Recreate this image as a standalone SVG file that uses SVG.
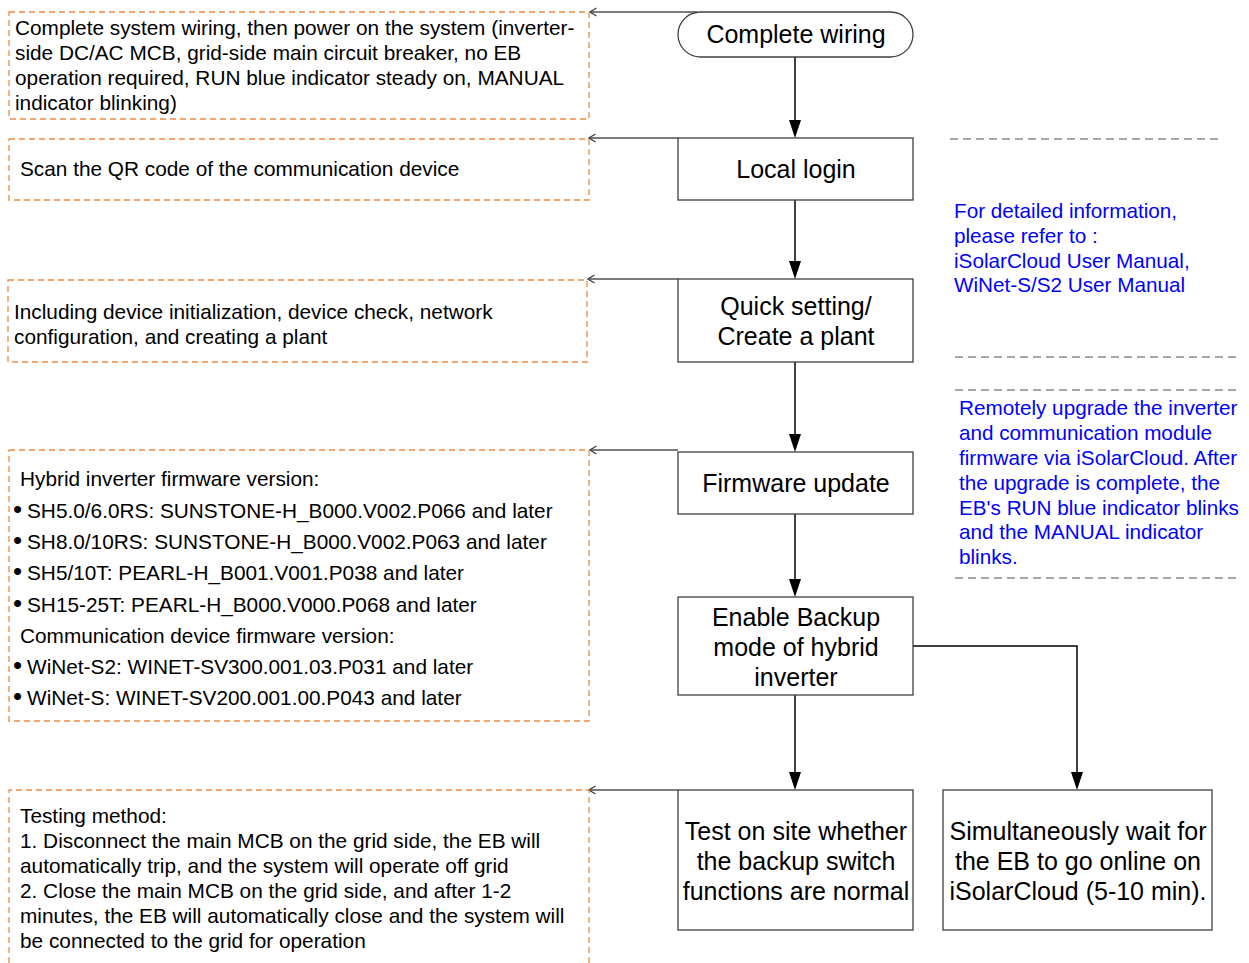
<svg xmlns="http://www.w3.org/2000/svg" width="1249" height="963" viewBox="0 0 1249 963">
<style>
  .node { fill: #ffffff; stroke: #404040; stroke-width: 1.3; }
  .ntext { font-family: "Liberation Sans", Arial, sans-serif; font-size: 25px; fill: #000; text-anchor: middle; }
  .note { fill: none; stroke: #EE8B45; stroke-width: 1.3; stroke-dasharray: 6,4; }
  .ltext { font-family: "Liberation Sans", Arial, sans-serif; font-size: 20.8px; fill: #000; }
  .bul { font-size: 26px; }
  .btext { font-family: "Liberation Sans", Arial, sans-serif; font-size: 20.7px; fill: #0000FF; }
  .flow { fill: none; stroke: #000; stroke-width: 1.5; }
  .ref { fill: none; stroke: #505050; stroke-width: 1.3; }
  .sep { fill: none; stroke: #505050; stroke-width: 1.2; stroke-dasharray: 8,5; }
</style>
<defs>
  <marker id="open" viewBox="0 0 10 10" refX="8.5" refY="5" markerWidth="10" markerHeight="10" markerUnits="userSpaceOnUse" orient="auto">
    <path d="M2,1 L8.5,5 L2,9" fill="none" stroke="#404040" stroke-width="1.3"/>
  </marker>
</defs>

<g id="connectors">
  <line class="flow" x1="795" y1="57" x2="795" y2="120"/>
  <path d="M789,120 L801,120 L795,138 Z" fill="#000"/>
  <line class="flow" x1="795" y1="200" x2="795" y2="261"/>
  <path d="M789,261 L801,261 L795,279 Z" fill="#000"/>
  <line class="flow" x1="795" y1="362" x2="795" y2="434"/>
  <path d="M789,434 L801,434 L795,452 Z" fill="#000"/>
  <line class="flow" x1="795" y1="514" x2="795" y2="579"/>
  <path d="M789,579 L801,579 L795,597 Z" fill="#000"/>
  <line class="flow" x1="795" y1="695" x2="795" y2="772"/>
  <path d="M789,772 L801,772 L795,790 Z" fill="#000"/>
  <polyline class="flow" points="913,646 1077,646 1077,772"/>
  <path d="M1071,772 L1083,772 L1077,790 Z" fill="#000"/>

  <line class="ref" x1="697" y1="12" x2="590" y2="12" marker-end="url(#open)"/>
  <line class="ref" x1="678" y1="138" x2="589" y2="138" marker-end="url(#open)"/>
  <line class="ref" x1="678" y1="279" x2="588" y2="279" marker-end="url(#open)"/>
  <line class="ref" x1="678" y1="450" x2="590" y2="450" marker-end="url(#open)"/>
  <line class="ref" x1="678" y1="790" x2="589" y2="790" marker-end="url(#open)"/>
</g>

<g id="node-complete-wiring">
  <rect class="node" x="678" y="12" width="235" height="45" rx="22.5" ry="22.5"/>
  <text class="ntext" x="796" y="43">Complete wiring</text>
</g>
<g id="node-local-login">
  <rect class="node" x="678" y="138" width="235" height="62"/>
  <text class="ntext" x="796" y="178">Local login</text>
</g>
<g id="node-quick-setting">
  <rect class="node" x="678" y="279" width="235" height="83"/>
  <text class="ntext" x="796" y="315">Quick setting/</text>
  <text class="ntext" x="796" y="345">Create a plant</text>
</g>
<g id="node-firmware-update">
  <rect class="node" x="678" y="452" width="235" height="62"/>
  <text class="ntext" x="796" y="492">Firmware update</text>
</g>
<g id="node-enable-backup">
  <rect class="node" x="678" y="597" width="235" height="98"/>
  <text class="ntext" x="796" y="626">Enable Backup</text>
  <text class="ntext" x="796" y="656">mode of hybrid</text>
  <text class="ntext" x="796" y="686">inverter</text>
</g>
<g id="node-test-on-site">
  <rect class="node" x="678" y="790" width="235" height="140"/>
  <text class="ntext" x="796" y="840">Test on site whether</text>
  <text class="ntext" x="796" y="870">the backup switch</text>
  <text class="ntext" x="796" y="900">functions are normal</text>
</g>
<g id="node-wait-eb">
  <rect class="node" x="943" y="790" width="269" height="140"/>
  <text class="ntext" x="1078" y="840">Simultaneously wait for</text>
  <text class="ntext" x="1078" y="870">the EB to go online on</text>
  <text class="ntext" x="1078" y="900">iSolarCloud (5-10 min).</text>
</g>

<g id="note-wiring">
  <rect class="note" x="9" y="12" width="580" height="107"/>
  <text class="ltext" x="15" y="35">Complete system wiring, then power on the system (inverter-</text>
  <text class="ltext" x="15" y="60">side DC/AC MCB, grid-side main circuit breaker, no EB</text>
  <text class="ltext" x="15" y="85">operation required, RUN blue indicator steady on, MANUAL</text>
  <text class="ltext" x="15" y="110">indicator blinking)</text>
</g>
<g id="note-scan">
  <rect class="note" x="9" y="139" width="580" height="61"/>
  <text class="ltext" x="20" y="176">Scan the QR code of the communication device</text>
</g>
<g id="note-quick">
  <rect class="note" x="8" y="280" width="579" height="82"/>
  <text class="ltext" x="14" y="319">Including device initialization, device check, network</text>
  <text class="ltext" x="14" y="344">configuration, and creating a plant</text>
</g>
<g id="note-firmware">
  <rect class="note" x="9" y="450" width="580" height="271"/>
  <text class="ltext" x="20" y="486">Hybrid inverter firmware version:</text>
  <text class="ltext" y="518"><tspan class="bul" x="13">•</tspan><tspan x="27">SH5.0/6.0RS: SUNSTONE-H_B000.V002.P066 and later</tspan></text>
  <text class="ltext" y="549"><tspan class="bul" x="13">•</tspan><tspan x="27">SH8.0/10RS: SUNSTONE-H_B000.V002.P063 and later</tspan></text>
  <text class="ltext" y="580"><tspan class="bul" x="13">•</tspan><tspan x="27">SH5/10T: PEARL-H_B001.V001.P038 and later</tspan></text>
  <text class="ltext" y="612"><tspan class="bul" x="13">•</tspan><tspan x="27">SH15-25T: PEARL-H_B000.V000.P068 and later</tspan></text>
  <text class="ltext" x="20" y="643">Communication device firmware version:</text>
  <text class="ltext" y="674"><tspan class="bul" x="13">•</tspan><tspan x="27">WiNet-S2: WINET-SV300.001.03.P031 and later</tspan></text>
  <text class="ltext" y="705"><tspan class="bul" x="13">•</tspan><tspan x="27">WiNet-S: WINET-SV200.001.00.P043 and later</tspan></text>
</g>
<g id="note-testing">
  <path class="note" d="M9,963 L9,790 L589,790 L589,963"/>
  <text class="ltext" x="20" y="823">Testing method:</text>
  <text class="ltext" x="20" y="848">1. Disconnect the main MCB on the grid side, the EB will</text>
  <text class="ltext" x="20" y="873">automatically trip, and the system will operate off grid</text>
  <text class="ltext" x="20" y="898">2. Close the main MCB on the grid side, and after 1-2</text>
  <text class="ltext" x="20" y="923">minutes, the EB will automatically close and the system will</text>
  <text class="ltext" x="20" y="948">be connected to the grid for operation</text>
</g>

<g id="info-manual">
  <line class="sep" x1="950" y1="139" x2="1222" y2="139"/>
  <text class="btext" x="954" y="218">For detailed information,</text>
  <text class="btext" x="954" y="243">please refer to :</text>
  <text class="btext" x="954" y="268">iSolarCloud User Manual,</text>
  <text class="btext" x="954" y="292">WiNet-S/S2 User Manual</text>
  <line class="sep" x1="955" y1="357" x2="1238" y2="357"/>
</g>
<g id="info-upgrade">
  <line class="sep" x1="955" y1="390" x2="1238" y2="390"/>
  <text class="btext" x="959" y="415">Remotely upgrade the inverter</text>
  <text class="btext" x="959" y="440">and communication module</text>
  <text class="btext" x="959" y="465">firmware via iSolarCloud. After</text>
  <text class="btext" x="959" y="490">the upgrade is complete, the</text>
  <text class="btext" x="959" y="515">EB's RUN blue indicator blinks</text>
  <text class="btext" x="959" y="539">and the MANUAL indicator</text>
  <text class="btext" x="959" y="564">blinks.</text>
  <line class="sep" x1="955" y1="578" x2="1238" y2="578"/>
</g>
</svg>
